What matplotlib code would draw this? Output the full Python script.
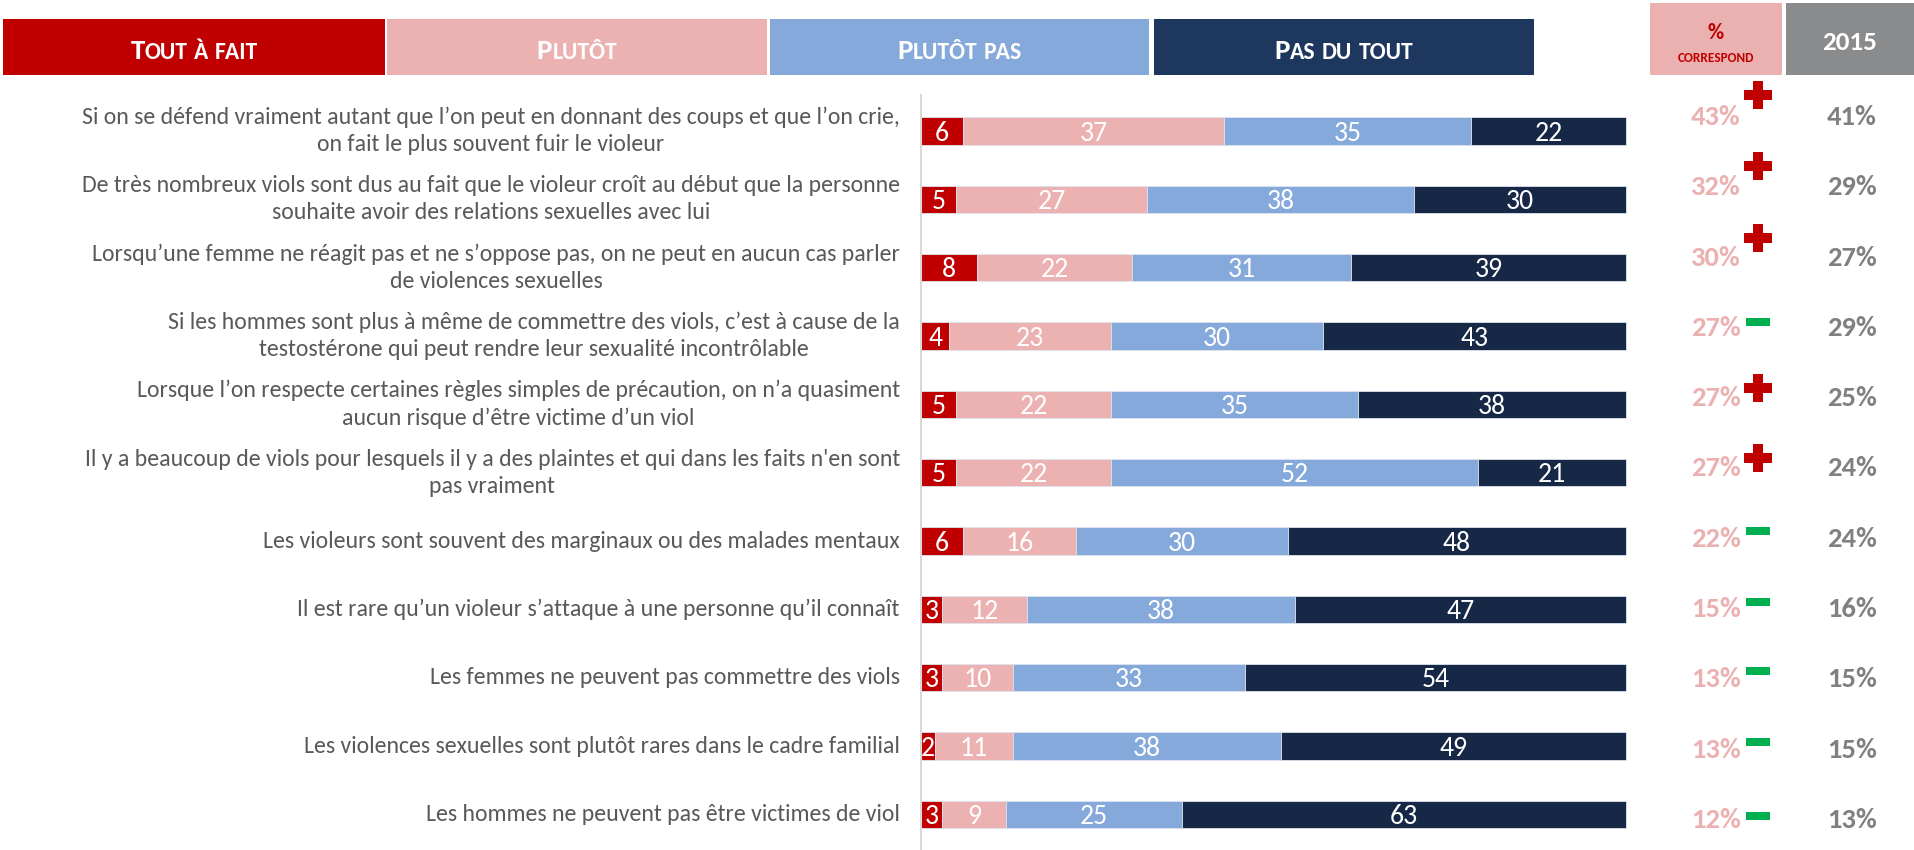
import numpy as np
import matplotlib
matplotlib.use('Agg')
import matplotlib.pyplot as plt
from matplotlib import font_manager
from matplotlib.patches import Rectangle

labels = [
    "Si on se défend vraiment autant que l’on peut en donnant des coups et que l’on crie,\non fait le plus souvent fuir le violeur",
    "De très nombreux viols sont dus au fait que le violeur croît au début que la personne\nsouhaite avoir des relations sexuelles avec lui",
    "Lorsqu’une femme ne réagit pas et ne s’oppose pas, on ne peut en aucun cas parler\nde violences sexuelles",
    "Si les hommes sont plus à même de commettre des viols, c’est à cause de la\ntestostérone qui peut rendre leur sexualité incontrôlable",
    "Lorsque l’on respecte certaines règles simples de précaution, on n’a quasiment\naucun risque d’être victime d’un viol",
    "Il y a beaucoup de viols pour lesquels il y a des plaintes et qui dans les faits n'en sont\npas vraiment",
    "Les violeurs sont souvent des marginaux ou des malades mentaux",
    "Il est rare qu’un violeur s’attaque à une personne qu’il connaît",
    "Les femmes ne peuvent pas commettre des viols",
    "Les violences sexuelles sont plutôt rares dans le cadre familial",
    "Les hommes ne peuvent pas être victimes de viol",
]
tout_a_fait = [6, 5, 8, 4, 5, 5, 6, 3, 3, 2, 3]
plutot = [37, 27, 22, 23, 22, 22, 16, 12, 10, 11, 9]
plutot_pas = [35, 38, 31, 30, 35, 52, 30, 38, 33, 38, 25]
pas_du_tout = [22, 30, 39, 43, 38, 21, 48, 47, 54, 49, 63]
correspond = [43, 32, 30, 27, 27, 27, 22, 15, 13, 13, 12]
annee_2015 = [41, 29, 27, 29, 25, 24, 24, 16, 15, 15, 13]
evolution = ['+', '+', '+', '-', '+', '+', '-', '-', '-', '-', '-']
series_names = ['Tout à fait', 'Plutôt', 'Plutôt pas', 'Pas du tout']

bar_colors = ['#C00000', '#ECB1B1', '#86A9DC', '#172847']
head_colors = ['#C00000', '#ECB1B1', '#86A9DC', '#1D375F']
# small vertical nudges (px) of the +/- signs, as laid out in the slide
sign_dy = [-22, -21, -20, -6, -10, -10, -8, -7, -8, -8, -4]

# Calibri-like font if we have one
installed = {f.name for f in font_manager.fontManager.ttflist}
main_font = next((f for f in ['Carlito', 'Lato', 'Liberation Sans'] if f in installed), 'DejaVu Sans')
plt.rcParams['font.family'] = [main_font, 'DejaVu Sans']

W, H = 1915, 850
fig = plt.figure(figsize=(W / 100, H / 100), dpi=100)
renderer = fig.canvas.get_renderer()


def px_axes(left, top, right, bottom):
    return fig.add_axes([left / W, 1 - bottom / H, (right - left) / W, (bottom - top) / H])


def px_rect(left, top, right, bottom, color):
    fig.add_artist(Rectangle((left / W, 1 - bottom / H), (right - left) / W, (bottom - top) / H,
                             transform=fig.transFigure, facecolor=color, edgecolor='none'))


def smallcaps(cx, base_y, text, big, small, color):
    pieces = []
    for k, word in enumerate(text.split(' ')):
        if k:
            pieces.append((None, small))
        rest = word
        if word[0].isupper():
            pieces.append((word[0], big))
            rest = word[1:]
        if rest:
            pieces.append((rest.upper(), small))
    objs, widths = [], []
    for s, sz in pieces:
        if s is None:
            objs.append(None)
            widths.append(sz * 0.26 * 100 / 72)
            continue
        t = fig.text(0, 1 - base_y / H, s, fontsize=sz, weight='bold', color=color,
                     ha='left', va='baseline')
        objs.append(t)
        widths.append(t.get_window_extent(renderer).width)
    x = cx - sum(widths) / 2
    for t, w in zip(objs, widths):
        if t is not None:
            t.set_x(x / W)
        x += w


# fit the label size so the longest first line is ~822 px wide like the slide
probe = fig.text(0, 0, labels[0].split('\n')[0], fontsize=10)
label_size = 10 * 822 / probe.get_window_extent(renderer).width
probe.remove()

# ---- header boxes
boxes = [(3, 385), (387, 767), (770, 1149), (1154, 1534)]
for (l, r), col, name in zip(boxes, head_colors, series_names):
    px_rect(l, 19, r, 75, col)
    smallcaps((l + r) / 2, 59, name, 21, 17, 'white')

px_rect(1650, 3, 1782, 75, '#EBB1B1')
px_rect(1786, 3, W, 75, '#898B8D')
fig.text(1716 / W, 1 - 33 / H, '%', ha='center', va='center', color='#C00000',
         fontsize=16, weight='bold')
fig.text(1716 / W, 1 - 58 / H, 'CORRESPOND', ha='center', va='center', color='#C00000',
         fontsize=9.5, weight='bold')
fig.text(1850 / W, 1 - 43 / H, '2015', ha='center', va='center', color='white',
         fontsize=19.5, weight='bold')

# ---- stacked bars
ax = px_axes(921, 95, W, H)
unit = 7.05
row0, step = 131, 68.35
ax.set_xlim(0, (W - 921) / unit)
ax.set_ylim((H - row0) / step, (95 - row0) / step)
for s in ['top', 'right', 'bottom']:
    ax.spines[s].set_visible(False)
ax.spines['left'].set_color('#D9D9D9')
ax.spines['left'].set_linewidth(1.5)
ax.set_xticks([])
ax.set_yticks([])

y = np.arange(len(labels))
left = np.zeros(len(labels))
for vals, col in zip([tout_a_fait, plutot, plutot_pas, pas_du_tout], bar_colors):
    vals = np.array(vals)
    ax.barh(y, vals, left=left, height=0.4, color=col, edgecolor='#DDE3EE', linewidth=0.6)
    for yi, l, v in zip(y, left, vals):
        ax.text(l + v / 2, yi + 0.14, str(v), ha='center', va='baseline', color='white',
                fontsize=20)
    left += vals

for yi, lab in zip(y, labels):
    ax.text(-3, yi, lab, ha='right', va='center', multialignment='center',
            color='#595959', fontsize=label_size, linespacing=1.35)

# ---- right-hand table
tab = px_axes(1640, 80, W, H)
tab.set_xlim(0, W - 1640)
trow0, tstep = 117, 70.3
tab.set_ylim((H - trow0) / tstep, (80 - trow0) / tstep)
tab.axis('off')
minus = [(-1, -0.37), (1, -0.37), (1, 0.37), (-1, 0.37)]
for i, (c, v, e) in enumerate(zip(correspond, annee_2015, evolution)):
    tab.text(76, i, f'{c}%', ha='center', va='center', color='#EBB1B1', fontsize=20.5,
             weight='bold')
    tab.text(212, i, f'{v}%', ha='center', va='center', color='#808080', fontsize=20.5,
             weight='bold')
    ys = i + sign_dy[i] / tstep
    if e == '+':
        tab.plot(118, ys, marker='P', ms=20, color='#C00000', mew=0)
    else:
        tab.plot(118, ys, marker=minus, ms=17, color='#00B050', mew=0)

fig.savefig('out.png', dpi=100)
